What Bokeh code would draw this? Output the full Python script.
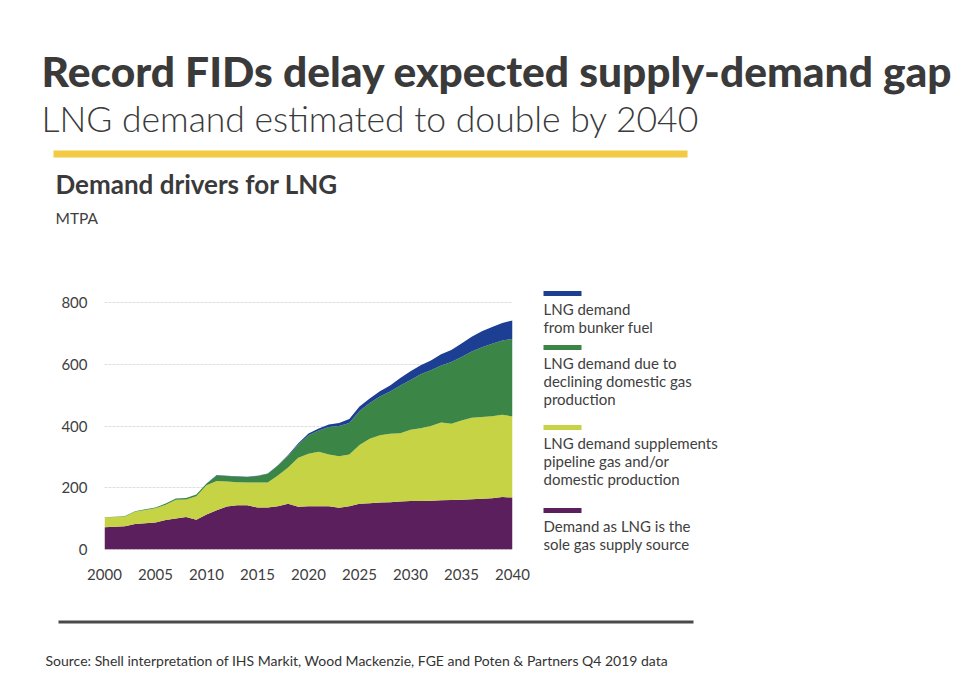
from bokeh.plotting import figure
from bokeh.layouts import column, row
from bokeh.models import ColumnDataSource, Range1d, FixedTicker
from bokeh.core.properties import value
from bokeh.embed import file_html
from bokeh.resources import INLINE

# LNG demand by driver, MTPA
years = list(range(2000, 2041))
sole_source = [72, 73, 75, 82, 85, 87, 95, 100, 105, 96,
               113, 127, 139, 143, 143, 136, 136, 140, 148, 138,
               140, 140, 140, 135, 140, 148, 150, 152, 153, 155,
               157, 157, 158, 159, 160, 161, 163, 164, 166, 170, 168]
supplements = [31, 32, 32, 40, 43, 46, 50, 61, 57, 76,
               95, 95, 81, 75, 74, 81, 81, 100, 118, 159,
               170, 177, 168, 167, 168, 191, 209, 218, 222, 222,
               231, 236, 242, 253, 248, 257, 264, 266, 266, 267, 263]
declining = [1, 1, 1, 2, 2, 3, 4, 4, 5, 6,
             6, 18, 18, 18, 18, 21, 28, 32, 38, 43,
             60, 69, 89, 98, 102, 110, 116, 126, 137, 155,
             162, 175, 181, 185, 200, 206, 215, 226, 235, 241, 252]
bunker = [0, 0, 0, 0, 0, 0, 0, 0, 0, 0,
          0, 1, 1, 1, 1, 1, 1, 1, 2, 4,
          6, 6, 8, 10, 13, 15, 15, 17, 20, 24,
          28, 30, 32, 36, 39, 44, 48, 52, 55, 57, 60]

stack_order = ["sole_source", "supplements", "declining", "bunker"]
stack_colors = ["#5b1f5e", "#c6d345", "#3b8547", "#1c3f94"]

legend_entries = [
    ("#1c3f94", ["LNG demand", "from bunker fuel"]),
    ("#3b8547", ["LNG demand due to", "declining domestic gas", "production"]),
    ("#c6d345", ["LNG demand supplements", "pipeline gas and/or", "domestic production"]),
    ("#5b1f5e", ["Demand as LNG is the", "sole gas supply source"]),
]

x_ticks = [2000, 2005, 2010, 2015, 2020, 2025, 2030, 2035, 2040]
y_ticks = [0, 200, 400, 600, 800]

W, H = 974, 700
HEADER_H = 280
MID_H = 330
CHART_W = 530
FOOTER_H = H - HEADER_H - MID_H
LEFT, RIGHT = 104, 512          # plot frame, page pixels
FRAME_TOP, FRAME_BOTTOM = 287, 555
Y_MIN, Y_MAX = -20, 850
TEXT = "#404040"
DARK = "#3a3a3a"
FONT = "Lato"


def blank_panel(w, h, x0, y0, y_span=None):
    """Axis-free figure whose data units are page pixels."""
    top, bottom = y_span if y_span else (y0, y0 + h)
    f = figure(width=w, height=h, output_backend="svg", toolbar_location=None,
               x_range=Range1d(x0, x0 + w), y_range=Range1d(bottom, top),
               min_border=0, min_border_left=0, min_border_right=0,
               min_border_top=0, min_border_bottom=0)
    f.axis.visible = False
    f.grid.visible = False
    f.outline_line_color = None
    f.background_fill_color = "white"
    f.border_fill_color = "white"
    return f


def put_text(f, text, x, baseline, size, color=TEXT, bold=False, font=FONT):
    # anchor on the middle of the em box, which sits ~0.39 em above the baseline
    f.text(x=[x], y=[baseline - 0.39 * size], text=[text], text_font=value(font),
           text_font_size=value(f"{size}px"),
           text_font_style="bold" if bold else "normal",
           text_color=color, text_align="left", text_baseline="middle")


def put_box(f, x0, x1, y0, y1, color):
    f.quad(left=[x0], right=[x1], top=[y0], bottom=[y1],
           fill_color=color, line_color=None)


# ---- headline block ----
header = blank_panel(W, HEADER_H, 0, 0)
put_text(header, "Record FIDs delay expected supply-demand gap", 41, 87, 42.5, color=DARK,
         font="Lato Black")
put_text(header, "LNG demand estimated to double by 2040", 41, 132, 35.5, color=DARK,
         font="Lato Light")
put_box(header, 53, 687, 150, 157, "#f2ca44")
put_text(header, "Demand drivers for LNG", 55, 194, 26, color=DARK, bold=True)
put_text(header, "MTPA", 55, 224, 15.5)

# ---- stacked area chart ----
src = ColumnDataSource(dict(year=years, sole_source=sole_source,
                            supplements=supplements, declining=declining,
                            bunker=bunker))

p = figure(width=CHART_W, height=MID_H, output_backend="svg", toolbar_location=None,
           x_range=Range1d(2000, 2040), y_range=Range1d(Y_MIN, Y_MAX),
           min_border_left=LEFT, min_border_right=CHART_W - RIGHT,
           min_border_top=FRAME_TOP - HEADER_H,
           min_border_bottom=HEADER_H + MID_H - FRAME_BOTTOM)
p.outline_line_color = None
p.background_fill_color = "white"
p.border_fill_color = "white"

p.varea_stack(stackers=stack_order, x="year", color=stack_colors, source=src)

for ax in (p.xaxis[0], p.yaxis[0]):
    ax.axis_line_color = None
    ax.major_tick_line_color = None
    ax.minor_tick_line_color = None
    ax.major_tick_in = 0
    ax.major_tick_out = 0
    ax.major_label_text_font = FONT
    ax.major_label_text_font_size = "15px"
    ax.major_label_text_color = TEXT
p.xaxis.ticker = FixedTicker(ticks=x_ticks)
p.yaxis.ticker = FixedTicker(ticks=y_ticks)
p.xaxis.major_label_standoff = 13
p.yaxis.major_label_standoff = 17

p.xgrid.grid_line_color = None
p.ygrid.grid_line_color = "#dedede"
p.ygrid.grid_line_dash = "3 1"
p.ygrid.grid_line_width = 1

# ---- legend (its frame lines up with the chart frame) ----
legend = blank_panel(W - CHART_W, MID_H, CHART_W, HEADER_H,
                     y_span=(FRAME_TOP, FRAME_BOTTOM))
swatch_y = [293, 347, 427, 510]
for (color, lines), sy in zip(legend_entries, swatch_y):
    put_box(legend, 543, 581, sy - 2.5, sy + 2.5, color)
    for i, line in enumerate(lines):
        put_text(legend, line, 543, sy + 21 + 18 * i, 15)

# ---- footer ----
footer = blank_panel(W, FOOTER_H, 0, HEADER_H + MID_H)
put_box(footer, 58, 693, 620, 623, "#4a4a4a")
put_text(footer, "Source: Shell interpretation of IHS Markit, Wood Mackenzie, FGE and Poten & Partners Q4 2019 data",
         45, 665, 14, color="#333333")

page = column(header, row(p, legend), footer)
open("out.html", "w").write(file_html(page, INLINE))
